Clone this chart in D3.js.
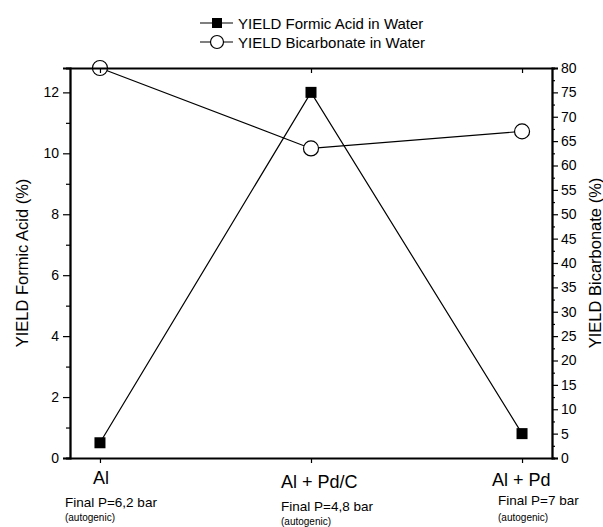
<!doctype html>
<html>
<head>
<meta charset="utf-8">
<script src="https://cdnjs.cloudflare.com/ajax/libs/d3/7.8.5/d3.min.js"></script>
<style>
  body { margin: 0; background: #fff; }
  svg { font-family: "Liberation Sans", Arial, sans-serif; }
</style>
</head>
<body>
<svg id="chart" width="603" height="527"></svg>
<script>
// data
var categories = ["Al", "Al + Pd/C", "Al + Pd"];
var pressureLabels = ["Final P=6,2 bar", "Final P=4,8 bar", "Final P=7 bar"];
var noteLabels = ["(autogenic)", "(autogenic)", "(autogenic)"];
var formicYield = [0.5, 12.0, 0.8];
var bicarbYield = [80, 63.5, 67];
var leftTicks = [0, 2, 4, 6, 8, 10, 12];
var rightTicks = d3.range(0, 81, 5);

var svg = d3.select("#chart");
var pLeft = 70, pRight = 552, pTop = 68, pBottom = 458;

var x = d3.scaleLinear().domain([-0.142, 2.142]).range([pLeft, pRight]);
var yL = d3.scaleLinear().domain([0, 12.8]).range([pBottom, pTop]);
var yR = d3.scaleLinear().domain([0, 80]).range([pBottom, pTop]);

// plot content (drawn first so the frame sits on top)
var plot = svg.append("g");

var lineL = d3.line().x(function (d, i) { return x(i); }).y(function (d) { return yL(d); });
var lineR = d3.line().x(function (d, i) { return x(i); }).y(function (d) { return yR(d); });

plot.append("path").datum(formicYield).attr("d", lineL)
  .attr("fill", "none").attr("stroke", "#000").attr("stroke-width", 1.2);
plot.append("path").datum(bicarbYield).attr("d", lineR)
  .attr("fill", "none").attr("stroke", "#000").attr("stroke-width", 1.2);

var sq = 11;
plot.selectAll("rect.formic").data(formicYield).enter().append("rect")
  .attr("class", "formic")
  .attr("x", function (d, i) { return x(i) - sq / 2; })
  .attr("y", function (d) { return yL(d) - sq / 2; })
  .attr("width", sq).attr("height", sq).attr("fill", "#000");
plot.selectAll("circle.bicarb").data(bicarbYield).enter().append("circle")
  .attr("class", "bicarb")
  .attr("cx", function (d, i) { return x(i); })
  .attr("cy", function (d) { return yR(d); })
  .attr("r", 7.5).attr("fill", "#fff").attr("stroke", "#000").attr("stroke-width", 1.2);

// axes
svg.append("g").attr("transform", "translate(" + pLeft + ",0)")
  .call(d3.axisLeft(yL).tickValues(leftTicks).tickSize(7).tickPadding(4).tickFormat(d3.format("d")));
svg.append("g").attr("transform", "translate(" + pLeft + ",0)")
  .call(d3.axisLeft(yL).tickValues(d3.range(1, 12.5, 2)).tickSize(4).tickFormat(""));
svg.append("g").attr("transform", "translate(" + pRight + ",0)")
  .call(d3.axisRight(yR).tickValues(rightTicks).tickSize(6).tickPadding(3).tickFormat(d3.format("d")));
svg.append("g").attr("transform", "translate(" + pRight + ",0)")
  .call(d3.axisRight(yR).tickValues(d3.range(2.5, 80, 5)).tickSize(3).tickFormat(""));
svg.append("g").attr("transform", "translate(0," + pBottom + ")")
  .call(d3.axisBottom(x).tickValues([0, 1, 2]).tickSize(5).tickSizeOuter(0).tickFormat(""));
svg.append("g").attr("transform", "translate(0," + pTop + ")")
  .call(d3.axisBottom(x).tickValues([0, 1, 2]).tickSize(5).tickSizeOuter(0).tickFormat(""));

svg.selectAll(".domain").attr("stroke", "#000").attr("stroke-width", 1.8);
svg.selectAll(".tick line").attr("stroke", "#000").attr("stroke-width", 1.2);
svg.selectAll(".tick text").attr("font-size", "14px").attr("fill", "#000")
  .attr("font-family", "'Liberation Sans', Arial, sans-serif");

// axis titles
svg.append("text").attr("transform", "translate(28," + ((pTop + pBottom) / 2) + ") rotate(-90)")
  .attr("text-anchor", "middle").attr("font-size", "16.5px").text("YIELD Formic Acid (%)");
svg.append("text").attr("transform", "translate(601," + ((pTop + pBottom) / 2) + ") rotate(-90)")
  .attr("text-anchor", "middle").attr("font-size", "16.5px").text("YIELD Bicarbonate (%)");

// category labels
var catDx = [-7, -30, -30];
var catY = [484, 488, 486];
var subDx = [-35, -30, -24];
var subY = [507, 511, 505];
var noteY = [521, 525, 521];
categories.forEach(function (c, i) {
  svg.append("text").attr("x", x(i) + catDx[i]).attr("y", catY[i]).attr("font-size", "18px").text(c);
  svg.append("text").attr("x", x(i) + subDx[i]).attr("y", subY[i]).attr("font-size", "13.5px").text(pressureLabels[i]);
  svg.append("text").attr("x", x(i) + subDx[i]).attr("y", noteY[i]).attr("font-size", "10px").text(noteLabels[i]);
});

// legend
var legend = [
  { label: "YIELD Formic Acid in Water", shape: "square", y: 23 },
  { label: "YIELD Bicarbonate in Water", shape: "circle", y: 42 }
];
legend.forEach(function (l) {
  svg.append("line").attr("x1", 200).attr("x2", 233).attr("y1", l.y).attr("y2", l.y)
    .attr("stroke", "#000").attr("stroke-width", 1.2);
  if (l.shape === "square") {
    svg.append("rect").attr("x", 212).attr("y", l.y - 5).attr("width", 10).attr("height", 10).attr("fill", "#000");
  } else {
    svg.append("circle").attr("cx", 217).attr("cy", l.y).attr("r", 6.5)
      .attr("fill", "#fff").attr("stroke", "#000").attr("stroke-width", 1.2);
  }
  svg.append("text").attr("x", 238).attr("y", l.y + 5.5).attr("font-size", "15px").text(l.label);
});
</script>
</body>
</html>
